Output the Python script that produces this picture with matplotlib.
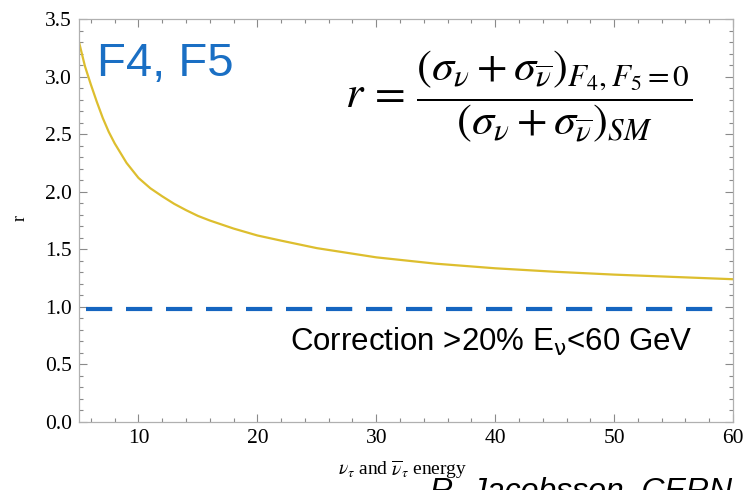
import matplotlib
matplotlib.use("Agg")
import matplotlib.pyplot as plt
from matplotlib.ticker import MultipleLocator

# Ratio r of the summed neutrino/antineutrino cross sections vs. energy
energy = [5, 5.5, 6, 6.5, 7, 7.5, 8, 9, 10, 11, 12, 13, 14, 15, 16,
          18, 20, 22, 25, 30, 35, 40, 45, 50, 55, 60]
ratio = [3.30, 3.09, 2.93, 2.78, 2.64, 2.52, 2.42, 2.25, 2.12, 2.03, 1.96,
         1.895, 1.84, 1.79, 1.75, 1.68, 1.62, 1.575, 1.51, 1.43, 1.375,
         1.335, 1.305, 1.28, 1.26, 1.24]
reference_level = 0.98

x_ticks = [10, 20, 30, 40, 50, 60]
y_ticks = [0.0, 0.5, 1.0, 1.5, 2.0, 2.5, 3.0, 3.5]

fig = plt.figure(figsize=(7.44, 4.90), dpi=100)
ax = fig.add_axes([79 / 744, 1 - 422 / 490, 654 / 744, 403 / 490])

ax.plot(energy, ratio, color="#DDBE2E", lw=1.6, solid_capstyle="round",
        solid_joinstyle="round")
ax.axhline(reference_level, xmin=0.011, xmax=0.97, color="#1565C0", lw=3.0,
           dashes=(6.3, 3.3))

ax.set_xlim(5, 60)
ax.set_ylim(0, 3.5)
ax.set_xticks(x_ticks)
ax.set_yticks(y_ticks)
ax.set_yticklabels([f"{v:.1f}" for v in y_ticks])
ax.xaxis.set_minor_locator(MultipleLocator(2))
ax.yaxis.set_minor_locator(MultipleLocator(0.1))

serif = "Liberation Serif"
ax.tick_params(which="both", direction="in", top=True, right=True,
               color="#8a8a8a", width=0.8)
ax.tick_params(which="major", length=6, labelsize=15.5, pad=5)
ax.tick_params(which="minor", length=3)
for lab in ax.get_xticklabels() + ax.get_yticklabels():
    lab.set_fontfamily(serif)
for sp in ax.spines.values():
    sp.set_color("#b0b0b0")
    sp.set_linewidth(0.9)

# Axis titles
fig.text(20 / 744, 1 - 218 / 490, "r", rotation=90, fontsize=13,
         family=serif, ha="center", va="center")
fig.text(403 / 744, 1 - 470 / 490, r"$\nu_\tau$ and $\overline{\nu}_\tau$ energy",
         fontsize=14, family=serif, math_fontfamily="stix",
         ha="center", va="center")

# Annotations
fig.text(97 / 744, 1 - 64 / 490, "F4, F5", fontsize=34, color="#1A6FC4",
         family="Liberation Sans", ha="left", va="center")
fig.text(345 / 744, 1 - 97 / 490,
         r"$r\,=\,\dfrac{(\sigma_\nu+\sigma_{\overline{\nu}})_{F_4,F_5=0}}"
         r"{(\sigma_\nu+\sigma_{\overline{\nu}})_{SM}}$",
         fontsize=32, math_fontfamily="stix", ha="left", va="center")
fig.text(290 / 744, 1 - 342 / 490,
         r"Correction >20% E$_{\mathrm{\nu}}$<60 GeV",
         fontsize=22.5, family="Liberation Sans", math_fontfamily="dejavusans",
         ha="left", va="center")
fig.text(430 / 744, 1 - 500 / 490, "R. Jacobsson, CERN", fontsize=23,
         style="italic", family="Liberation Sans", ha="left", va="baseline")

fig.savefig("out.png", dpi=100)
